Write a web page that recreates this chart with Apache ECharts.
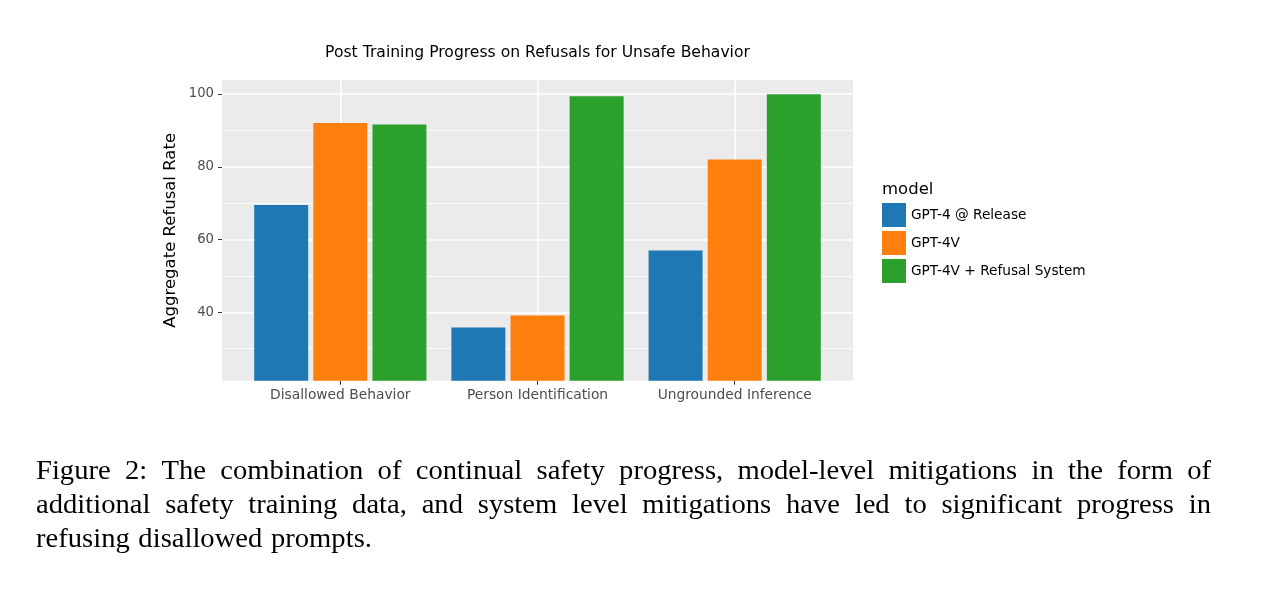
<!DOCTYPE html>
<html>
<head>
<meta charset="utf-8">
<script src="https://cdn.jsdelivr.net/npm/echarts@6/dist/echarts.min.js"></script>
<style>
html,body{margin:0;padding:0;background:#fff;}
#chart{width:1284px;height:608px;}
</style>
</head>
<body>
<div id="chart"></div>
<script>
// ---- data ----
const categories = ['Disallowed Behavior', 'Person Identification', 'Ungrounded Inference'];
const seriesNames = ['GPT-4 @ Release', 'GPT-4V', 'GPT-4V + Refusal System'];
const gpt4Release = [69.5, 35.8, 57.0];
const gpt4v = [92.0, 39.1, 82.0];
const gpt4vRefusal = [91.6, 99.4, 99.9];
const yTicks = [40, 60, 80, 100];
const yMinorTicks = [30, 50, 70, 90];
const xPositions = [1, 2, 3];
const titleText = 'Post Training Progress on Refusals for Unsafe Behavior';
const yAxisName = 'Aggregate Refusal Rate';
const legendTitle = 'model';
const captionLines = [
  'Figure 2:  The combination of continual safety progress, model-level mitigations in the form of',
  'additional safety training data, and system level mitigations have led to significant progress in',
  'refusing disallowed prompts.'
];

const colors = ['#1f77b4', '#ff7f0e', '#2ca02c'];
const valuesList = [gpt4Release, gpt4v, gpt4vRefusal];

// ---- caption layout (justified) ----
const capFont = '27px "Liberation Serif"';
const capScaleX = 1.06;
const capLeft = 36, capRight = 1211;
const capY = [472, 506, 540];
const mctx = document.createElement('canvas').getContext('2d');
mctx.font = capFont;
const captionGraphics = [];
captionLines.forEach((line, li) => {
  const words = line.split(/\s+/);
  const widths = words.map(w => mctx.measureText(w).width * capScaleX);
  const total = widths.reduce((a, b) => a + b, 0);
  const justify = li < captionLines.length - 1;
  const gap = justify ? (capRight - capLeft - total) / (words.length - 1) : mctx.measureText(' ').width * capScaleX * 1.2;
  let x = capLeft;
  words.forEach((w, wi) => {
    captionGraphics.push({
      type: 'text', x: x, y: capY[li], scaleX: capScaleX, silent: true,
      style: { text: w, font: capFont, fill: '#000', textAlign: 'left', textVerticalAlign: 'middle' }
    });
    x += widths[wi] + gap;
  });
});

const chart = echarts.init(document.getElementById('chart'), null, { renderer: 'canvas' });

const series = seriesNames.map((name, si) => ({
  name: name,
  type: 'bar',
  barWidth: 54,
  barGap: '9.5%',
  itemStyle: { color: colors[si] },
  data: xPositions.map((x, i) => [x, valuesList[si][i]]),
  silent: true
}));

const option = {
  animation: false,
  textStyle: { fontFamily: '"DejaVu Sans"' },
  grid: {
    left: 222, right: 431, top: 80, bottom: 227.3,
    show: true, backgroundColor: '#ebebeb', borderWidth: 0,
    containLabel: false
  },
  xAxis: {
    type: 'value', min: 0.4, max: 3.6,
    axisLine: { show: false },
    axisTick: { show: true, length: 4, lineStyle: { color: '#333', width: 1 }, customValues: xPositions },
    axisLabel: {
      customValues: xPositions, color: '#4d4d4d', fontSize: 13.8, margin: 8,
      fontFamily: '"DejaVu Sans"',
      formatter: v => categories[Math.round(v) - 1] || ''
    },
    splitLine: { show: true, lineStyle: { color: '#ffffff', width: 1.6 } }
  },
  yAxis: [
    {
      type: 'value', min: 21.2, max: 103.85,
      name: yAxisName, nameLocation: 'middle', nameRotate: 90, nameGap: 43,
      nameTextStyle: { color: '#000', fontSize: 16.5, fontFamily: '"DejaVu Sans"' },
      axisLine: { show: false },
      axisTick: { show: true, length: 4, lineStyle: { color: '#333', width: 1 }, customValues: yTicks },
      axisLabel: { customValues: yTicks, color: '#4d4d4d', fontSize: 13.2, margin: 8, fontFamily: '"DejaVu Sans"' },
      splitLine: { show: true, lineStyle: { color: '#ffffff', width: 1.6 } }
    },
    {
      type: 'value', min: 21.2, max: 103.85, position: 'left',
      axisLine: { show: false },
      axisTick: { show: false, customValues: yMinorTicks },
      axisLabel: { show: false, customValues: yMinorTicks },
      splitLine: { show: true, lineStyle: { color: '#ffffff', width: 0.8 } }
    }
  ],
  legend: {
    orient: 'vertical', left: 882, top: 203, padding: 0,
    itemWidth: 24, itemHeight: 24, itemGap: 4,
    icon: 'rect', selectedMode: false,
    textStyle: { color: '#000', fontSize: 13.7, fontFamily: '"DejaVu Sans"' },
    data: seriesNames
  },
  graphic: [
    {
      type: 'text', x: 537.5, y: 53, silent: true,
      style: { text: titleText, font: '15.6px "DejaVu Sans"', fill: '#000', textAlign: 'center', textVerticalAlign: 'middle' }
    },
    {
      type: 'text', x: 882, y: 190, silent: true,
      style: { text: legendTitle, font: '16.5px "DejaVu Sans"', fill: '#000', textAlign: 'left', textVerticalAlign: 'middle' }
    }
  ].concat(captionGraphics),
  series: series
};
chart.setOption(option);
</script>
</body>
</html>
